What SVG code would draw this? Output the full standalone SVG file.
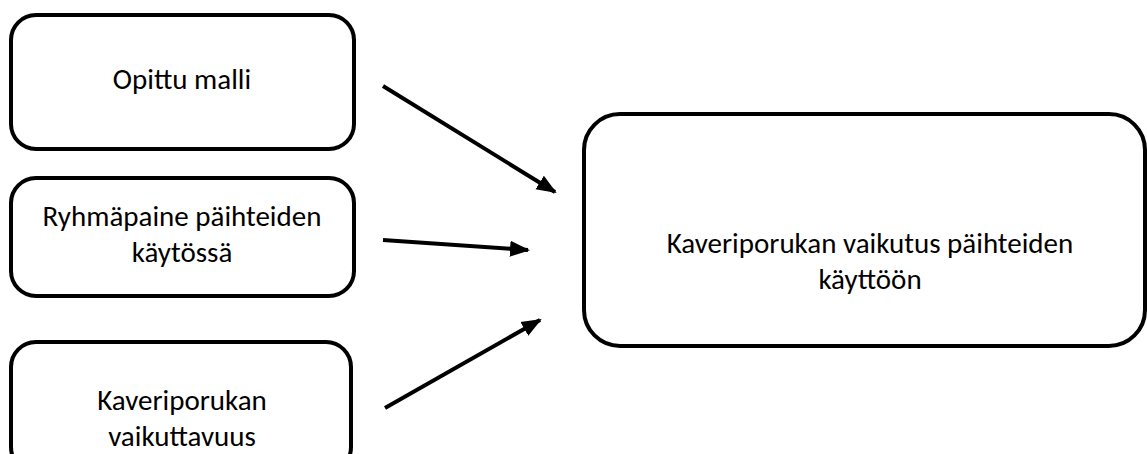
<svg xmlns="http://www.w3.org/2000/svg" width="1147" height="454" viewBox="0 0 1147 454">
<style>
.box{fill:#fff;stroke:#000;stroke-width:4}
.t{font-family:Carlito,Lato,"Open Sans",sans-serif;font-size:29px;fill:#000;text-anchor:middle}
.c{stroke:#000;stroke-width:4;fill:none;marker-end:url(#ah)}
</style>
<defs>
<marker id="ah" markerUnits="userSpaceOnUse" markerWidth="20" markerHeight="18" refX="18" refY="8" orient="auto" viewBox="0 0 20 16">
<path d="M0,0 L20,8 L0,16 z" fill="#000"/>
</marker>
</defs>
<rect width="1147" height="454" fill="#fff"/>
<g id="n1"><rect class="box" x="11" y="15" width="343" height="134" rx="25"/><text class="t" x="182" y="89">Opittu malli</text></g>
<g id="n2"><rect class="box" x="11" y="178" width="343" height="118" rx="25"/><text class="t" x="182" y="226">Ryhmäpaine päihteiden</text><text class="t" x="182" y="262">käytössä</text></g>
<g id="n3"><rect class="box" x="11" y="342" width="340" height="130" rx="25"/><text class="t" x="182" y="410">Kaveriporukan</text><text class="t" x="182" y="446">vaikuttavuus</text></g>
<g id="n4"><rect class="box" x="584" y="114" width="561" height="232" rx="36"/><text class="t" x="870" y="253">Kaveriporukan vaikutus päihteiden</text><text class="t" x="870" y="289">käyttöön</text></g>
<g id="connectors">
<line class="c" x1="383" y1="86" x2="555" y2="192"/>
<line class="c" x1="383" y1="240" x2="528" y2="250"/>
<line class="c" x1="385" y1="408" x2="540" y2="320"/>
</g>
</svg>
